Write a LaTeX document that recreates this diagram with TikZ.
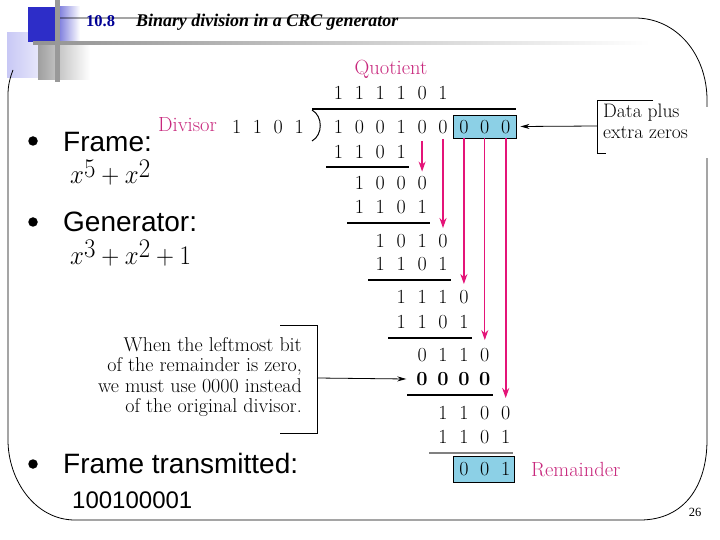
\documentclass[tikz,border=0pt]{standalone}
\usepackage{fontspec}
\usepackage{graphicx}
\newfontfamily\sansf{Liberation Sans}
\newfontfamily\serff{Liberation Serif}
\usetikzlibrary{arrows.meta,calc}
\definecolor{mag}{RGB}{200,40,125}
\definecolor{arr}{RGB}{228,20,120}
\definecolor{boxc}{RGB}{140,208,230}
\definecolor{navy}{RGB}{0,0,150}
\definecolor{tblue}{RGB}{45,45,200}
\definecolor{lav}{RGB}{200,200,245}
\newcommand{\lsup}[1]{^{\lower3pt\hbox{$\scriptstyle #1$}}}
\begin{document}
\begin{tikzpicture}[x=1pt,y=-1pt,
  dig/.style={inner sep=0pt, font=\fontsize{20}{22}\selectfont},
  bdig/.style={inner sep=0pt, font=\fontsize{20}{22}\selectfont\bfseries},
  lbl/.style={inner sep=0pt, text=mag, font=\fontsize{20.5}{22}\selectfont},
  note/.style={inner sep=0pt, font=\fontsize{20}{22}\selectfont, anchor=base east},
  rulel/.style={line width=1.1pt},
  marrow/.style={draw=arr, -{Stealth[length=10pt,width=7pt]}},
  karrow/.style={draw=black, line width=0.8pt, -{Stealth[length=9pt,width=5pt]}},
  bigt/.style={inner sep=0pt, font=\sansf\fontsize{28}{32}\selectfont, anchor=base west},
  mth/.style={inner sep=0pt, anchor=base west},
  bul/.style={circle, fill=black, inner sep=0pt, minimum size=9.5pt},
  boxn/.style={draw=black, line width=0.9pt, fill=boxc, inner sep=0pt}
]
\useasboundingbox (0,0) rectangle (720,540);
\fill[white] (0,0) rectangle (720,540);
% template decoration
\shade[left color=lav, right color=white!80!lav] (7,33) rectangle (53,78);
\fill[tblue] (28,7) rectangle (56,42);
\shade[left color=tblue!70, right color=white] (56,7) rectangle (80,42);
\shade[left color=gray!75, right color=white] (38,45) rectangle (90,80);
\shade[left color=gray!85, right color=white] (33,42) rectangle (650,45);
\fill[gray!80] (55,0) rectangle (60,82);
% frame
\draw[line width=0.8pt] (60,18) -- (635,18) .. controls (677,18) and (707,55) .. (707,100)
  -- (707,440) .. controls (707,485) and (685,520) .. (640,520) -- (75,520)
  .. controls (35,520) and (8,480) .. (8,440) -- (8,95) .. controls (8,85) and (10,78) .. (13,70);
% title
\node[inner sep=0pt, anchor=base west, text=navy, font=\serff\bfseries\fontsize{16.5}{20}\selectfont] (tnum) at (86,27) {10.8};
\node[inner sep=0pt, anchor=base west, font=\serff\bfseries\itshape\fontsize{17.9}{20}\selectfont] (ttl) at (136,27) {Binary division in a CRC generator};
% left text
\node[bul] (b1) at (33,141) {};
\node[bigt] (t1) at (63,152) {Frame:};
\node[mth] (m1) at (70,184) {\scalebox{1}[1.08]{\fontsize{33}{34}\selectfont$x\lsup{5}+x\lsup{2}$}};
\node[bul] (b2) at (33,222) {};
\node[bigt] (t2) at (63,232) {Generator:};
\node[mth] (m2) at (70,264) {\scalebox{1}[1.08]{\fontsize{33}{34}\selectfont$x\lsup{3}+x\lsup{2}+1$}};
\node[bul] (b3) at (33,464) {};
\node[bigt] (t3) at (63,473.5) {Frame transmitted:};
\node[inner sep=0pt, anchor=base west, font=\sansf\fontsize{24}{28}\selectfont] (t4) at (72,508.5) {100100001};
\node[inner sep=0pt, anchor=base, font=\serff\fontsize{12.5}{14}\selectfont] (pg) at (695,516) {26};
% boxes
\node[boxn, minimum width=63pt, minimum height=23pt] (databox) at (484.5,126.5) {};
\node[boxn, minimum width=61pt, minimum height=26pt] (rembox) at (483.5,469) {};
% digits
\foreach \rw/\y/\s/\ds in {q/93/0/{1,1,1,1,0,1}, d/127/0/{1,0,0,1,0,0,0,0,0}, sa/152/0/{1,1,0,1},
  ra/183/1/{1,0,0,0}, sb/207/1/{1,1,0,1}, rb/241/2/{1,0,1,0}, sc/264/2/{1,1,0,1},
  rc/297/3/{1,1,1,0}, sd/322/3/{1,1,0,1}, rd/355/4/{0,1,1,0}, re/413/5/{1,1,0,0},
  sf/437/5/{1,1,0,1}, rf/469/6/{0,0,1}} {
  \foreach \d [count=\i from 0] in \ds {
    \node[dig] (\rw c\i) at ({338.5+20.9*(\s+\i)},\y) {\d};
  }
}
\foreach \i in {0,1,2,3} {
  \node[bdig] (sec\i) at ({338.5+20.9*(4+\i)},379) {0};
}
% divisor
\node[lbl] (divl) at (187.5,125) {Divisor};
\foreach \d [count=\i from 0] in {1,1,0,1} {
  \node[dig] (v\i) at ({236.7+20.8*\i},127) {\d};
}
\node[lbl] (quol) at (391,69) {Quotient};
\node[lbl, anchor=west] (reml) at (531,470) {Remainder};
% division bar and bracket
\draw[rulel] (312,109) -- (516,109);
\draw[line width=1pt] (312,110) .. controls (323,116) and (323,135) .. (312,141);
% underlines
\draw[rulel] (326,167) -- (409,167);
\draw[rulel] (347,223) -- (430,223);
\draw[rulel] (368,280) -- (451,280);
\draw[rulel] (388,338) -- (472,338);
\draw[rulel] (407,395) -- (493,395);
\draw[line width=2pt, gray] (429,453) -- (513,453);
% magenta arrows
\draw[marrow, line width=1.4pt] ($(dc4.south)+(0,7)$) -- ($(rac3.north)+(0,-4.5)$);
\draw[marrow, line width=1.1pt] ($(dc5.south)+(0,5)$) -- ($(rbc3.north)+(0,-6)$);
\draw[marrow, line width=1.8pt] (dc6 |- databox.south) -- ($(rcc3.north)+(0,-6)$);
\draw[marrow, line width=1.1pt] (dc7 |- databox.south) -- ($(rdc3.north)+(0,-8)$);
\draw[marrow, line width=1.8pt] (dc8 |- databox.south) -- ($(rec3.north)+(0,-8)$);
% data plus extra zeros
\fill[white] (599,107) rectangle (714,158);
\draw[line width=0.8pt] (653,100) -- (597,100) -- (597,153) -- (606,153);
\coordinate (dp) at (597,126);
\draw[karrow] (dp) -- ($(databox.east)+(4,0)$);
\node[inner sep=0pt, anchor=base west, font=\fontsize{19.5}{22}\selectfont] (dpl1) at (603,118) {Data plus};
\node[inner sep=0pt, anchor=base west, font=\fontsize{19.5}{22}\selectfont] (dpl2) at (603,139) {extra zeros};
% explanation
\draw[line width=0.8pt] (280,325) -- (317,325) -- (317,433) -- (280,433);
\coordinate (eb) at (317,378);
\draw[karrow] (eb) -- ($(sec0.west)+(-10,0)$);
\node[note] (n1) at (302,351) {When the leftmost bit};
\node[note] (n2) at (302,371.5) {of the remainder is zero,};
\node[note] (n3) at (302,392) {we must use 0000 instead};
\node[note] (n4) at (302,412.5) {of the original divisor.};
\end{tikzpicture}
\end{document}
